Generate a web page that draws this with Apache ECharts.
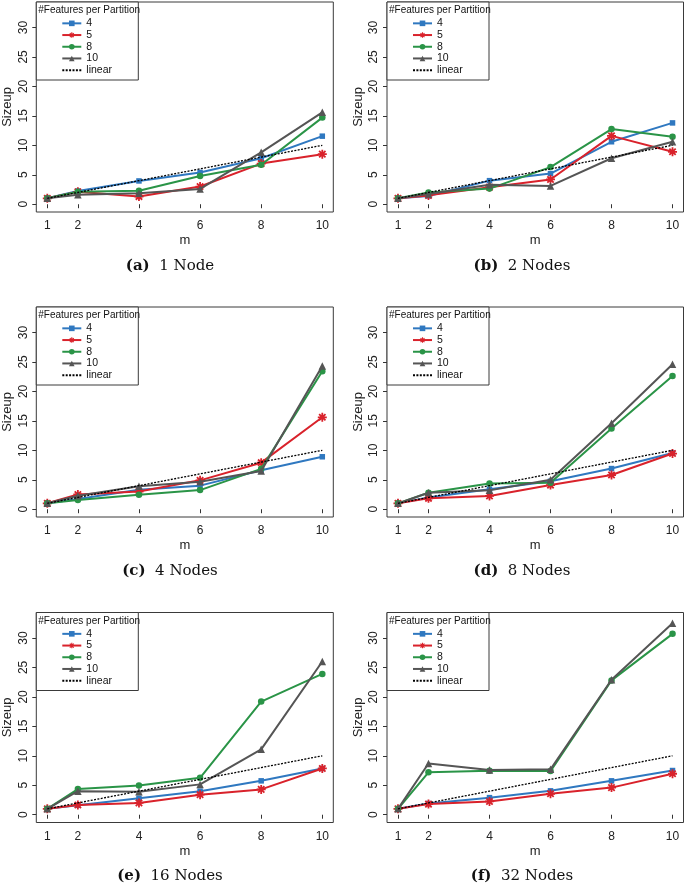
<!DOCTYPE html>
<html><head><meta charset="utf-8">
<script src="https://cdn.jsdelivr.net/npm/echarts@6/dist/echarts.min.js"></script>
<style>html,body{margin:0;padding:0;background:#fff}#c{width:685px;height:886px}</style>
</head><body><div id="c"></div>
<script>
// ---------- data ----------
const m = [1, 2, 4, 6, 8, 10];
const xTicks = [1, 2, 4, 6, 8, 10];
const yTicks = [0, 5, 10, 15, 20, 25, 30];
const seriesNames = ['4', '5', '8', '10'];
const linearName = 'linear';
const linear = [1, 2, 4, 6, 8, 10];
const captionTags = ['(a)', '(b)', '(c)', '(d)', '(e)', '(f)'];
const captionTexts = ['1 Node', '2 Nodes', '4 Nodes', '8 Nodes', '16 Nodes', '32 Nodes'];
const legendTitle = '#Features per Partition';

// (a) 1 Node
const a4  = [1, 2.25, 3.95, 5.4, 7.8, 11.55];
const a5  = [1, 2.1, 1.3, 3.0, 6.9, 8.5];
const a8  = [1, 2.1, 2.3, 4.8, 6.7, 14.7];
const a10 = [1, 1.6, 1.85, 2.6, 8.8, 15.6];
// (b) 2 Nodes
const b4  = [1, 1.4, 4.0, 5.2, 10.6, 13.8];
const b5  = [1, 1.5, 2.9, 4.2, 11.6, 8.9];
const b8  = [1, 2.0, 2.65, 6.3, 12.75, 11.45];
const b10 = [1, 1.75, 3.3, 3.1, 7.8, 10.6];
// (c) 4 Nodes
const c4  = [1, 1.75, 3.3, 4.0, 6.6, 8.9];
const c5  = [1, 2.5, 3.0, 4.9, 7.9, 15.6];
const c8  = [1, 1.55, 2.45, 3.25, 6.85, 23.4];
const c10 = [1, 2.3, 3.9, 4.65, 6.5, 24.3];
// (d) 8 Nodes
const d4  = [1, 2.0, 3.4, 4.75, 6.9, 9.55];
const d5  = [1, 1.85, 2.25, 4.1, 5.8, 9.45];
const d8  = [1, 2.8, 4.35, 4.5, 13.7, 22.6];
const d10 = [1, 2.8, 3.2, 5.0, 14.6, 24.6];
// (e) 16 Nodes
const e4  = [1, 1.6, 2.8, 4.0, 5.75, 7.85];
const e5  = [1, 1.65, 2.0, 3.4, 4.3, 7.85];
const e8  = [1, 4.35, 4.97, 6.27, 19.2, 23.9];
const e10 = [1, 4.0, 3.9, 5.15, 11.1, 26.0];
// (f) 32 Nodes
const f4  = [1, 1.9, 2.9, 4.05, 5.75, 7.5];
const f5  = [1, 1.8, 2.25, 3.55, 4.6, 6.95];
const f8  = [1, 7.2, 7.45, 7.4, 22.8, 30.7];
const f10 = [1, 8.7, 7.6, 7.7, 22.9, 32.5];

const panels = [
  [a4, a5, a8, a10], [b4, b5, b8, b10],
  [c4, c5, c8, c10], [d4, d5, d8, d10],
  [e4, e5, e8, e10], [f4, f5, f8, f10]
];

// ---------- styles / layout ----------
const colors = ['#2f78c0', '#d9222b', '#2a9447', '#555555'];
const asterisk = 'path://M-1 -5L1 -5L1 5L-1 5ZM-5 -1L5 -1L5 1L-5 1ZM-4.24 -2.83L-2.83 -4.24L4.24 2.83L2.83 4.24ZM-2.83 4.24L-4.24 2.83L2.83 -4.24L4.24 -2.83Z';
const symbols = ['rect', asterisk, 'circle', 'triangle'];
const symbolSizes = [5.5, 9, 6.5, 7.5];
const colLeft = [36.3, 387];
const colWidth = [297, 296.5];
const rowTop = [2, 307, 612.5];
const plotH = 210;
const capX = [170, 522];
const capY = [266, 571, 876];
const FONT = '"Liberation Sans", Arial, sans-serif';

const grid = [], xAxis = [], yAxis = [], series = [], legend = [], graphic = [];
panels.forEach((p, i) => {
  const col = i % 2, row = Math.floor(i / 2);
  const L = colLeft[col], T = rowTop[row];
  grid.push({left: L, top: T, width: colWidth[col], height: plotH, show: true,
    borderColor: '#3a3a3a', borderWidth: 1, backgroundColor: '#fff', containLabel: false, outerBoundsMode: 'none'});
  xAxis.push({type: 'value', gridIndex: i, min: 0.64, max: 10.36,
    name: 'm', nameLocation: 'middle', nameGap: 22,
    nameTextStyle: {fontFamily: FONT, fontSize: 13, color: '#222'},
    axisLine: {show: false}, splitLine: {show: false},
    axisTick: {show: true, length: 4, customValues: xTicks, lineStyle: {color: '#333'}},
    axisLabel: {customValues: xTicks, margin: 8, fontFamily: FONT, fontSize: 12, color: '#222'}});
  yAxis.push({type: 'value', gridIndex: i, min: -1.32, max: 34.32,
    name: 'Sizeup', nameLocation: 'middle', nameGap: 22, nameRotate: 90,
    nameTextStyle: {fontFamily: FONT, fontSize: 13, color: '#222'},
    axisLine: {show: false}, splitLine: {show: false},
    axisTick: {show: true, length: 4, customValues: yTicks, lineStyle: {color: '#333'}},
    axisLabel: {customValues: yTicks, rotate: 90, margin: 7, fontFamily: FONT, fontSize: 12, color: '#222'}});
  p.forEach((vals, k) => {
    series.push({type: 'line', name: seriesNames[k], xAxisIndex: i, yAxisIndex: i,
      data: m.map((x, j) => [x, vals[j]]),
      symbol: symbols[k], symbolSize: symbolSizes[k], showSymbol: true,
      itemStyle: {color: colors[k]}, lineStyle: {color: colors[k], width: 2},
      emphasis: {disabled: true}, z: 2 + k});
  });
  series.push({type: 'line', name: linearName, xAxisIndex: i, yAxisIndex: i,
    data: m.map((x, j) => [x, linear[j]]), symbol: 'none',
    itemStyle: {color: '#000'}, lineStyle: {color: '#000', width: 1.3, type: [2, 1.4]},
    emphasis: {disabled: true}, z: 10});
  legend.push({orient: 'vertical', left: L + 25, top: T + 15.5, itemWidth: 19, itemHeight: 7,
    itemGap: 0, selectedMode: false, padding: 0, z: 200,
    data: seriesNames.concat([{name: linearName, itemStyle: {color: 'rgba(0,0,0,0)', borderWidth: 0}}]),
    textStyle: {fontFamily: FONT, fontSize: 10.5, color: '#111', lineHeight: 11.7}});
  graphic.push({type: 'rect', shape: {x: L, y: T, width: 102, height: 78},
    style: {fill: '#fff', stroke: '#3a3a3a', lineWidth: 1}, z: 50, silent: true});
  graphic.push({type: 'text', x: L + 2, y: T + 8.5, z: 51, silent: true,
    style: {text: legendTitle, fontFamily: FONT, fontSize: 10, fill: '#111', verticalAlign: 'middle'}});
  graphic.push({type: 'text', x: capX[col], y: capY[row], z: 51, silent: true,
    style: {text: '{b|' + captionTags[i] + '}  ' + captionTexts[i], align: 'center', verticalAlign: 'middle',
      fontFamily: '"DejaVu Serif", serif', fontSize: 15, fill: '#111',
      rich: {b: {fontFamily: '"DejaVu Serif", serif', fontWeight: 'bold', fontSize: 15, fill: '#111'}}}});
});

const chart = echarts.init(document.getElementById('c'), null, {renderer: 'canvas'});
chart.setOption({animation: false, backgroundColor: '#fff', grid, xAxis, yAxis, series, legend, graphic});
</script></body></html>
